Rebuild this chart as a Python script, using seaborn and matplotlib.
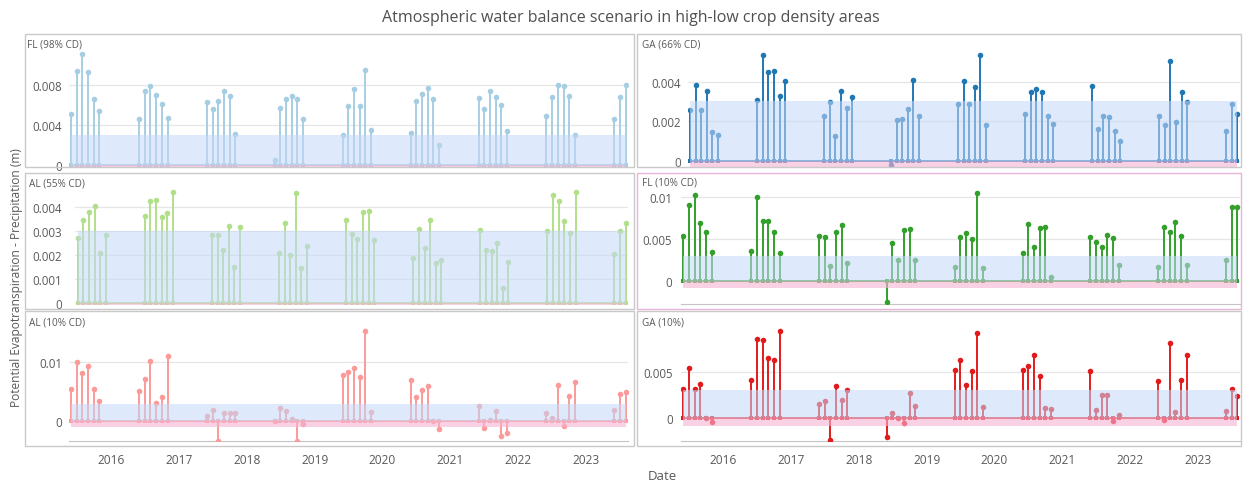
import matplotlib
matplotlib.use("Agg")
import matplotlib.pyplot as plt
import matplotlib.ticker as mticker
from matplotlib.patches import Rectangle
import numpy as np
import pandas as pd
import seaborn as sns

sns.set_style("white")
plt.rcParams["font.family"] = ["Open Sans", "DejaVu Sans"]

# ---------------------------------------------------------------- data
# Monthly readings for the growing season (June-November), 2015-2023
season_months = [6, 7, 8, 9, 10, 11]
dates = [pd.Timestamp(y, m, 1) for y in range(2015, 2023) for m in season_months]
dates += [pd.Timestamp(2023, m, 1) for m in (6, 7, 8)]

# PET - precipitation (m)
fl_98 = [0.0051, 0.0094, 0.0111, 0.0093, 0.0066, 0.0054,
         0.0046, 0.0074, 0.0079, 0.0070, 0.0061, 0.0047,
         0.0063, 0.0056, 0.0064, 0.0074, 0.0069, 0.0031,
         0.0005, 0.0057, 0.0066, 0.0069, 0.0066, 0.0046,
         0.0030, 0.0059, 0.0076, 0.0059, 0.0095, 0.0035,
         0.0032, 0.0064, 0.0071, 0.0077, 0.0066, 0.0020,
         0.0067, 0.0056, 0.0074, 0.0068, 0.0060, 0.0034,
         0.0049, 0.0068, 0.0080, 0.0079, 0.0069, 0.0030,
         0.0046, 0.0068, 0.0080]

ga_66 = [0.00258, 0.00385, 0.00258, 0.00354, 0.00147, 0.00132,
         0.00307, 0.00536, 0.00447, 0.00455, 0.00329, 0.00405,
         0.00225, 0.00296, 0.00123, 0.00351, 0.00265, 0.00321,
         -0.0002, 0.00206, 0.00210, 0.00262, 0.00408, 0.00228,
         0.00285, 0.00402, 0.00287, 0.00374, 0.00536, 0.00182,
         0.00238, 0.00346, 0.00361, 0.00346, 0.00226, 0.00184,
         0.00380, 0.00160, 0.00225, 0.00221, 0.00149, 0.00098,
         0.00225, 0.00182, 0.00503, 0.00194, 0.00346, 0.00299,
         0.00149, 0.00288, 0.00238]

al_55 = [0.00272, 0.00347, 0.00382, 0.00407, 0.00209, 0.00285,
         0.00365, 0.00425, 0.00431, 0.00359, 0.00375, 0.00463,
         0.00285, 0.00285, 0.00222, 0.00324, 0.00153, 0.00319,
         0.00208, 0.00334, 0.00203, 0.00459, 0.00147, 0.00239,
         0.00347, 0.00289, 0.00268, 0.00382, 0.00384, 0.00264,
         0.00188, 0.00310, 0.00231, 0.00347, 0.00167, 0.00181,
         0.00307, 0.00222, 0.00217, 0.00253, 0.00064, 0.00171,
         0.00303, 0.00453, 0.00425, 0.00342, 0.00292, 0.00463,
         0.00206, 0.00303, 0.00335]

fl_10 = [0.0054, 0.0091, 0.0103, 0.0069, 0.0059, 0.0034,
         0.0036, 0.0100, 0.0072, 0.0072, 0.0059, 0.0033,
         0.0054, 0.0053, 0.0018, 0.0058, 0.0067, 0.0021,
         -0.0026, 0.0045, 0.0025, 0.0061, 0.0062, 0.0025,
         0.0017, 0.0053, 0.0057, 0.0050, 0.0105, 0.0015,
         0.0033, 0.0068, 0.0041, 0.0063, 0.0065, 0.0005,
         0.0052, 0.0047, 0.0041, 0.0055, 0.0051, 0.0019,
         0.0017, 0.0065, 0.0058, 0.0071, 0.0054, 0.0019,
         0.0025, 0.0089, 0.0088]

al_10 = [0.0055, 0.0100, 0.0082, 0.0093, 0.0054, 0.0035,
         0.0051, 0.0071, 0.0103, 0.0031, 0.0041, 0.0111,
         0.00095, 0.0019, -0.0033, 0.0014, 0.0014, 0.0014,
         0.0001, 0.0023, 0.0017, 0.0004, -0.0033, -0.00046,
         0.0079, 0.0084, 0.0090, 0.0075, 0.0153, 0.0015,
         0.0070, 0.0042, 0.0053, 0.0059, 0.0001, -0.0013,
         0.0026, -0.0011, 0.0002, 0.0018, -0.0025, -0.0019,
         0.0014, 0.0005, 0.0062, -0.00075, 0.0043, 0.0066,
         0.0019, 0.0046, 0.0049]

ga_10 = [0.0032, 0.0055, 0.0032, 0.0037, 0.0000, -0.00047,
         0.0042, 0.0087, 0.0086, 0.0066, 0.0064, 0.0095,
         0.0015, 0.0018, -0.0025, 0.0035, 0.0019, 0.0031,
         -0.0021, 0.0005, 0.0000, -0.0006, 0.0027, 0.0013,
         0.0053, 0.0064, 0.0036, 0.0051, 0.0093, 0.0012,
         0.0053, 0.0057, 0.0069, 0.0046, 0.0011, 0.0010,
         0.0051, 0.00085, 0.0025, 0.0025, -0.00033, 0.0003,
         0.0040, -0.00025, 0.0082, 0.0006, 0.0042, 0.0069,
         0.0007, 0.0032, 0.0024]

panel_titles = ["FL (98% CD)", "GA (66% CD)", "AL (55% CD)",
                "FL (10% CD)", "AL (10% CD)", "GA (10%)"]
panel_values = [fl_98, ga_66, al_55, fl_10, al_10, ga_10]
panel_yticks = [[0, 0.004, 0.008], [0, 0.002, 0.004],
                [0, 0.001, 0.002, 0.003, 0.004], [0, 0.005, 0.01],
                [0, 0.01], [0, 0.005]]
comfort_band = (0.0, 0.003)
deficit_band = (-0.0009, 0.0)

# ---------------------------------------------------------------- layout
W, H = 1243, 485
palette = sns.color_palette("Paired", 6)
# (first stem x, last stem x, top y, bottom y, y-limits, tick label right edge)
layout = [
    (71.0, 625.7, 38, 167, (-0.00007, 0.01283), 62),
    (690.0, 1237.3, 38, 167, (-0.00027, 0.00626), 681),
    (77.7, 625.7, 178, 305, (-0.00003, 0.00527), 62),
    (683.3, 1237.3, 178, 305, (-0.0028, 0.01244), 672),
    (71.0, 625.7, 316, 442, (-0.00334, 0.01802), 62),
    (683.3, 1237.3, 316, 442, (-0.00256, 0.0113), 673),
]
frames = [(25, 35, 634, 168), (637, 35, 1241, 168),
          (25, 174, 634, 310), (637, 174, 1241, 310),
          (25, 312, 634, 447), (637, 312, 1241, 447)]
label_pos = [(27, 45), (642, 45), (29, 184), (642, 183), (29, 323), (642, 323)]

fig = plt.figure(figsize=(W / 100, H / 100), dpi=100)

first, last = dates[0], dates[-1]
span_days = (last - first).days
margin = pd.Timedelta(days=12)

for i, (vals, title, yt) in enumerate(zip(panel_values, panel_titles, panel_yticks)):
    x_first, x_last, y_top, y_bot, ylim, lab_right = layout[i]
    color = palette[i]
    px_per_day = (x_last - x_first) / span_days
    left = x_first - margin.days * px_per_day
    right = x_last + margin.days * px_per_day
    ax = fig.add_axes([left / W, 1 - y_bot / H, (right - left) / W, (y_bot - y_top) / H])
    ax.set_xlim(first - margin, last + margin)
    ax.set_ylim(*ylim)

    vals = np.asarray(vals)
    zeros = np.zeros_like(vals)
    ax.vlines(dates, zeros, vals, color=color, lw=1.4, zorder=2)
    ax.plot([first, last], [0, 0], color=color, lw=1.2, zorder=2)
    sns.scatterplot(x=dates, y=vals, ax=ax, color=color, s=16, linewidth=0, zorder=3, legend=False)
    sns.scatterplot(x=dates, y=zeros, ax=ax, color=color, s=6, marker="s", linewidth=0, zorder=3,
                    legend=False)

    ax.fill_between([first, last], *comfort_band, color="#c4d8f8", alpha=0.55, lw=0, zorder=4)
    ax.fill_between([first, last], *deficit_band, color="#f6b3d3", alpha=0.6, lw=0, zorder=4)

    ax.set_yticks(yt)
    ax.yaxis.set_major_formatter(mticker.FuncFormatter(lambda v, p: f"{v:g}"))
    ax.grid(axis="y", color="#e6e6e6", lw=0.9)
    ax.grid(axis="x", visible=False)
    ax.set_axisbelow(True)
    pad_pt = (left - lab_right) * 0.72
    ax.tick_params(axis="y", length=0, pad=pad_pt, labelsize=8.3, labelcolor="#595959")
    for s in ("top", "left", "right"):
        ax.spines[s].set_visible(False)
    ax.spines["bottom"].set_color("#c4c4c4")
    ax.spines["bottom"].set_visible(ylim[0] < -0.001)

    year_ticks = [pd.Timestamp(y, 1, 1) for y in range(2016, 2024)]
    ax.set_xticks(year_ticks)
    if i >= 4:
        ax.set_xticklabels([str(t.year) for t in year_ticks])
        ax.tick_params(axis="x", length=4, width=0.8, color="#c4c4c4", pad=5,
                       labelsize=8.6, labelcolor="#595959")
    else:
        ax.tick_params(axis="x", length=0, labelbottom=False)
    ax.set_xlabel("")
    ax.set_ylabel("")

    fx0, fy0, fx1, fy1 = frames[i]
    edge = "#e7b3d8" if i == 3 else "#c9c9c9"
    fig.add_artist(Rectangle((fx0 / W, 1 - fy1 / H), (fx1 - fx0) / W, (fy1 - fy0) / H,
                             transform=fig.transFigure, fill=False, ec=edge, lw=1.0))
    lx, ly = label_pos[i]
    fig.text(lx / W, 1 - ly / H, title, fontsize=7.2, color="#595959", va="center", ha="left")

fig.text(631 / W, 1 - 18 / H, "Atmospheric water balance scenario in high-low crop density areas",
         fontsize=11.5, color="#505050", ha="center", va="center")
fig.text(17 / W, 1 - 278 / H, "Potential Evapotranspiration - Precipitation (m)",
         fontsize=8.6, color="#595959", rotation=90, ha="center", va="center")
fig.text(662 / W, 1 - 477 / H, "Date", fontsize=9.5, color="#595959", ha="center", va="center")

fig.savefig("out.png", dpi=100)
